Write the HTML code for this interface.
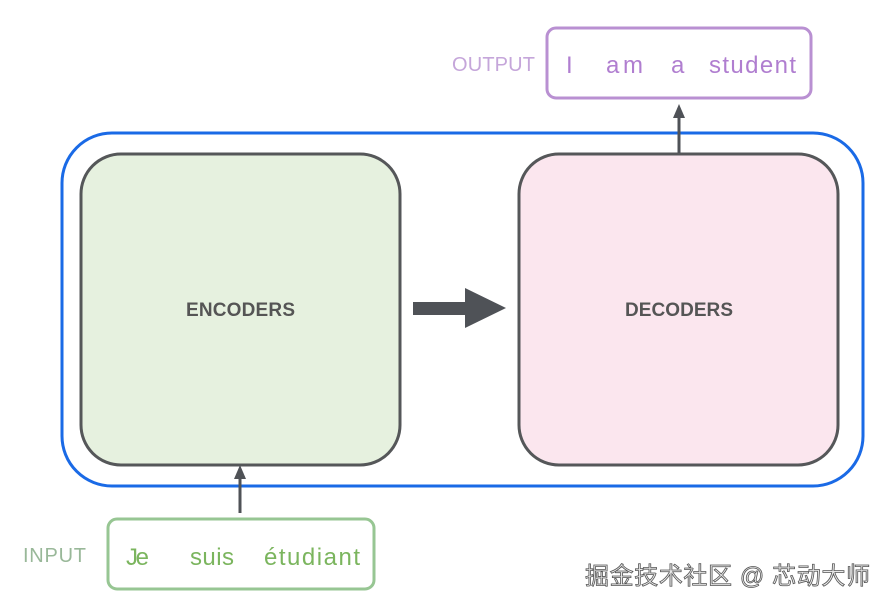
<!DOCTYPE html>
<html><head><meta charset="utf-8"><style>
html,body{margin:0;padding:0;background:#fff;}
svg{display:block;}
text{font-family:"Liberation Sans","Noto Sans CJK SC",sans-serif;}
</style></head><body>
<svg width="889" height="607" viewBox="0 0 889 607" xmlns="http://www.w3.org/2000/svg">
<rect x="62" y="133" width="801" height="353" rx="50" fill="none" stroke="#1a6ae6" stroke-width="3"/>
<rect x="81" y="154" width="319" height="311" rx="40" fill="#e6f1df" stroke="#555759" stroke-width="3"/>
<rect x="519" y="154" width="319" height="311" rx="40" fill="#fbe6ee" stroke="#555759" stroke-width="3"/>
<text x="186" y="316" textLength="109" font-size="19" font-weight="bold" fill="#555">ENCODERS</text>
<text x="625" y="316" textLength="108" font-size="19" font-weight="bold" fill="#555">DECODERS</text>
<rect x="413" y="302" width="54" height="13" fill="#4f5257"/>
<polygon points="465,288 506,308 465,328" fill="#4f5257"/>
<line x1="679" y1="153" x2="679" y2="115" stroke="#4f5257" stroke-width="3"/>
<polygon points="673,118 685,118 679,104" fill="#4f5257"/>
<line x1="240" y1="513" x2="240" y2="478" stroke="#4f5257" stroke-width="3"/>
<polygon points="234,479 246,479 240,465" fill="#4f5257"/>
<rect x="547" y="28" width="264" height="70" rx="9" fill="#fff" stroke="#b990d2" stroke-width="3"/>
<text x="452" y="71" textLength="83" font-size="20" fill="#c5a6da">OUTPUT</text>
<g font-size="24" fill="#b07ed0"><text x="566" y="73">I</text><text x="606" y="73" textLength="37">am</text><text x="671" y="73">a</text><text x="709" y="73" textLength="87">student</text></g>
<rect x="108" y="519" width="266" height="70" rx="9" fill="#fff" stroke="#97c693" stroke-width="3"/>
<text x="23" y="562" textLength="63" font-size="20" fill="#99b899">INPUT</text>
<g font-size="24" fill="#7bb55e"><text x="126" y="565" textLength="23">Je</text><text x="190" y="565" textLength="44">suis</text><text x="264" y="565" textLength="96">étudiant</text></g>
<text x="585" y="584" textLength="285" font-size="24" fill="#e8e8e8" stroke="#555" stroke-width="0.8">掘金技术社区 @ 芯动大师</text>
</svg>
</body></html>
